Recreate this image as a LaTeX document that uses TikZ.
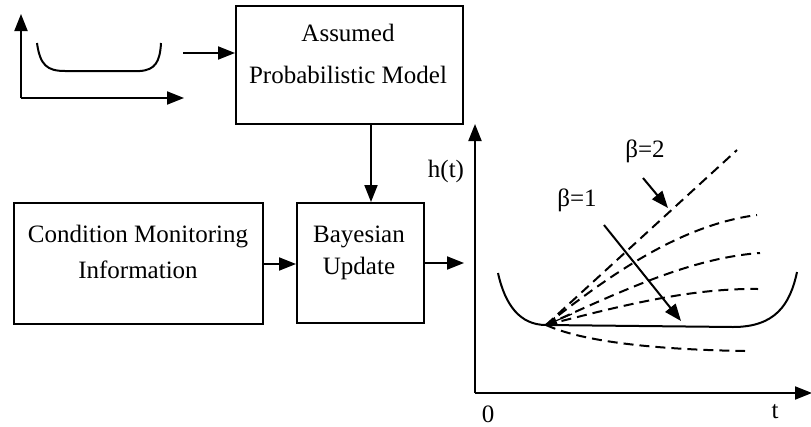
\documentclass[tikz,border=0pt]{standalone}
\usepackage{fontspec}
\setmainfont{Liberation Serif}
\usetikzlibrary{arrows.meta}
\begin{document}
\begin{tikzpicture}[x=1pt,y=-1pt,
  line width=2pt,
  tip/.style={-{Triangle[length=17pt,width=13pt]}},
  box/.style={draw,line width=2pt,anchor=north west,inner sep=0pt},
  lbl/.style={font=\fontsize{25}{29}\selectfont,align=center},
  dsh/.style={dash pattern=on 10pt off 6pt,line width=2pt}]
\useasboundingbox (0,0) rectangle (811,426);
% small bathtub sketch
\coordinate (so) at (21,98);
\coordinate (sy) at (21,14);
\coordinate (sx) at (184,98);
\draw[tip] (so) -- (sy);
\draw[tip] (so) -- (sx);
\draw (37,43) .. controls (40,65) and (47,71) .. (65,71) -- (140,71) .. controls (155,70) and (160,62) .. (161,43);
% boxes
\node[box,minimum width=227pt,minimum height=118pt] (am) at (235,5) {};
\node[lbl] (amt) at (348,33) {Assumed};
\node[lbl] (amt2) at (348,75) {Probabilistic Model};
\node[box,minimum width=249pt,minimum height=121pt] (cm) at (13,202) {};
\node[lbl] (cmt) at (138,237) {Condition Monitoring};
\node[lbl] (cmt2) at (138,270) {Information};
\node[box,minimum width=127pt,minimum height=120pt] (bu) at (296,202) {};
\node[lbl] (but) at (359,237) {Bayesian};
\node[lbl] (but2) at (359,268) {Update};
% connectors
\coordinate (a1) at (183,53);
\draw[tip] (a1) -- (am.west |- a1);
\draw[tip] (am.south -| 371,0) -- (bu.north -| 371,0);
\draw[tip] (cm.east |- 0,264) -- (bu.west |- 0,264);
\coordinate (a4) at (464,263);
\draw[tip] (bu.east |- a4) -- (a4);
% graph
\coordinate (go) at (475,393);
\coordinate (gy) at (475,124);
\coordinate (gx) at (812,393);
\draw[tip] (go) -- (gy);
\draw[tip] (go) -- (gx);
\node[lbl] (ht) at (446,171) {h(t)};
\node[lbl] (zero) at (488,414) {0};
\node[lbl] (tt) at (775,412) {t};
\coordinate (c) at (546,325);
\draw (498,273) .. controls (505,305) and (520,325) .. (c) -- (733,327) .. controls (775,327) and (790,305) .. (797,272);
\draw[dsh] (c) -- (737,150);
\draw[dsh] (c) .. controls (610,275) and (680,225) .. (757,215);
\draw[dsh] (c) .. controls (620,292) and (690,258) .. (760,253);
\draw[dsh] (c) .. controls (620,306) and (690,288) .. (758,289);
\draw[dsh] (c) .. controls (590,345) and (680,350) .. (745,351);
\draw[-{Triangle[length=11pt,width=8pt]},line width=1.2pt] (572,314) -- (c);
\node[lbl] (b1) at (577,200) {β=1};
\node[lbl] (b2) at (645,151) {β=2};
\draw[tip] (604,225) -- (681,321);
\draw[tip] (643,178) -- (668,208);
\end{tikzpicture}
\end{document}
